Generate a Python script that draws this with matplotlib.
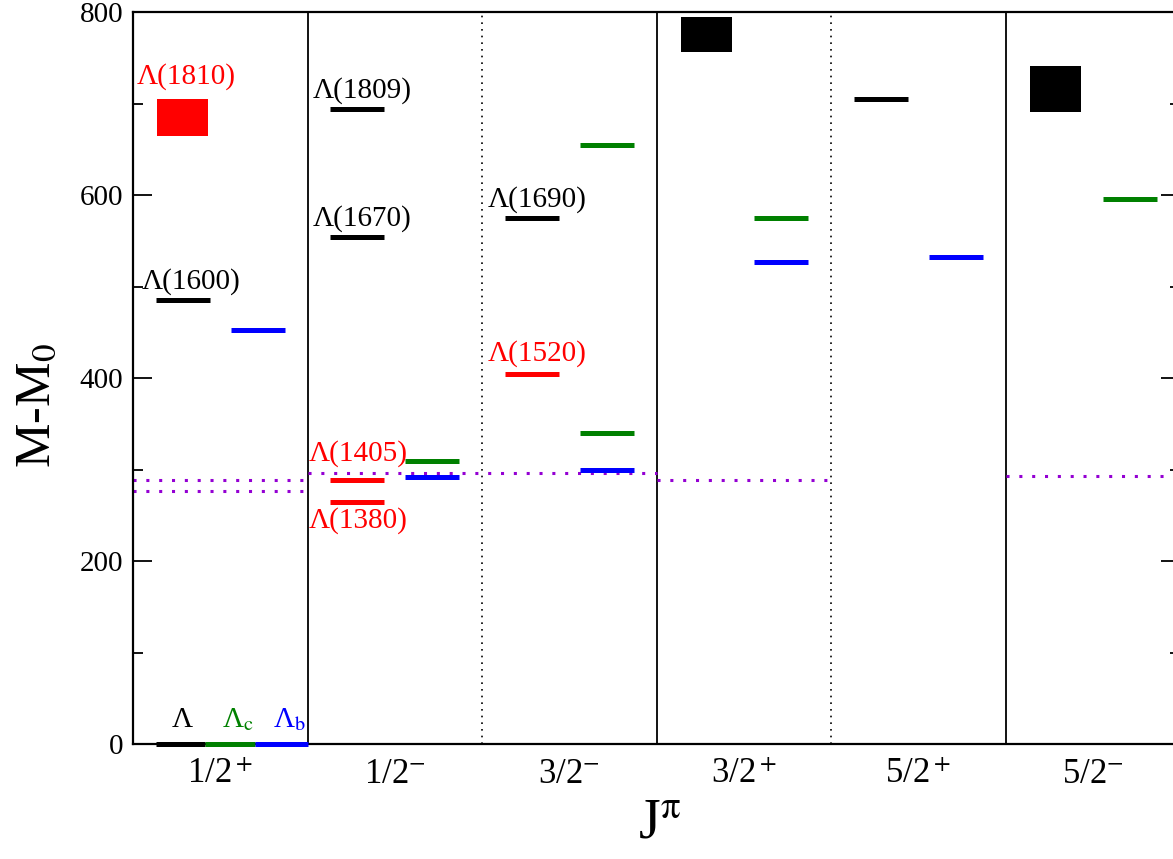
import matplotlib
matplotlib.use("Agg")
import matplotlib.pyplot as plt
from matplotlib.ticker import MultipleLocator

plt.rcParams['font.family'] = ['Liberation Serif', 'DejaVu Serif']
plt.rcParams['mathtext.fontset'] = 'stix'

# ---- data ----
panel_labels = ['1/2$^+$', '1/2$^{\\mathrm{-}}$', '3/2$^{\\mathrm{-}}$', '3/2$^+$', '5/2$^+$', '5/2$^{\\mathrm{-}}$']
divider_styles = ['solid', 'dotted', 'solid', 'dotted', 'solid']

# ground states (value 0) for Lambda, Lambda_c, Lambda_b
ground_labels = ['Λ', 'Λ$_\\mathrm{c}$', 'Λ$_\\mathrm{b}$']
ground_colors = ['black', 'green', 'blue']

# experimental Lambda levels (black): panel index, M-M0
lam_black_panel = [0, 1, 1, 2, 4]
lam_black_value = [485, 694, 554, 575, 705]
lam_black_label = ['Λ(1600)', 'Λ(1809)', 'Λ(1670)', 'Λ(1690)', '']

# red Lambda levels
lam_red_panel = [1, 1, 2]
lam_red_value = [288, 265, 404]
lam_red_label = ['Λ(1405)', 'Λ(1380)', 'Λ(1520)']

# boxes (range of values)
box_panel = [0, 3, 5]
box_low = [665, 756, 691]
box_high = [705, 795, 741]
box_color = ['red', 'black', 'black']
box_label = ['Λ(1810)', '', '']

# Lambda_c (green)
lc_panel = [1, 2, 2, 3, 5]
lc_value = [309, 655, 340, 575, 596]

# Lambda_b (blue)
lb_panel = [0, 1, 2, 3, 4]
lb_value = [452, 292, 300, 527, 532]

# thresholds (purple dotted): start panel, end panel, value
thr_start = [0, 0, 1, 3, 5]
thr_end = [1, 1, 3, 4, 6]
thr_value = [288, 277, 296, 288, 293]

# ---- figure ----
fig = plt.figure(figsize=(11.73, 8.59), dpi=100)
ax = fig.add_axes([133/1173, 115/859, (1180-133)/1173, (744-12)/859])
ax.set_xlim(0, 6)
ax.set_ylim(0, 800)

LW = 3.6
FS = 21
left_col = (0.13, 0.44)
right_col = (0.56, 0.87)

# dividers
for i, st in enumerate(divider_styles):
    if st == 'solid':
        ax.axvline(i + 1, color='black', lw=1.3)
    else:
        ax.axvline(i + 1, color='black', lw=1.2, linestyle=(0, (1, 3)))

# thresholds
for s, e, v in zip(thr_start, thr_end, thr_value):
    ax.plot([s, e], [v, v], color='#9400d3', lw=2.2, linestyle=(0, (1, 3.2)),
            dash_capstyle='butt', zorder=2)

# ground states
g_edges = [0.13, 0.41, 0.70, 1.0]
for k, c in enumerate(ground_colors):
    ax.plot([g_edges[k], g_edges[k+1]], [0, 0], color=c, lw=LW, zorder=4,
            solid_capstyle='butt', clip_on=False)
ax.text(0.285, 12, ground_labels[0], color='black', fontsize=FS, ha='center', va='bottom')
ax.text(0.51, 12, ground_labels[1], color='green', fontsize=FS, ha='left', va='bottom')
ax.text(0.80, 12, ground_labels[2], color='blue', fontsize=FS, ha='left', va='bottom')

# black levels
for p, v, lab in zip(lam_black_panel, lam_black_value, lam_black_label):
    ax.plot([p + left_col[0], p + left_col[1]], [v, v], color='black', lw=LW,
            solid_capstyle='butt', zorder=3)
    if lab:
        ax.text(p + 0.03 + (0.02 if p == 0 else 0), v + 20, lab, color='black',
                fontsize=FS, ha='left', va='center')

# red levels
for p, v, lab in zip(lam_red_panel, lam_red_value, lam_red_label):
    ax.plot([p + left_col[0], p + left_col[1]], [v, v], color='red', lw=LW,
            solid_capstyle='butt', zorder=3)
red_label_y = [317, 244, 427]
red_label_x = [1.005, 1.005, 2.03]
for lab, x, y in zip(lam_red_label, red_label_x, red_label_y):
    ax.text(x, y, lab, color='red', fontsize=FS, ha='left', va='center')

# boxes
for p, lo, hi, c, lab in zip(box_panel, box_low, box_high, box_color, box_label):
    ax.fill_between([p + 0.14, p + 0.43], lo, hi, color=c, lw=0, zorder=3)
    if lab:
        ax.text(p + 0.02, 729, lab, color=c, fontsize=FS, ha='left', va='center')

# Lambda_c and Lambda_b
for p, v in zip(lc_panel, lc_value):
    ax.plot([p + right_col[0], p + right_col[1]], [v, v], color='green', lw=LW,
            solid_capstyle='butt', zorder=3)
for p, v in zip(lb_panel, lb_value):
    ax.plot([p + right_col[0], p + right_col[1]], [v, v], color='blue', lw=LW,
            solid_capstyle='butt', zorder=3)

# axes styling
for sp in ax.spines.values():
    sp.set_linewidth(1.6)
ax.set_xticks([i + 0.5 for i in range(6)])
ax.set_xticklabels(panel_labels)
ax.tick_params(axis='x', length=0, pad=10, labelsize=25)
ax.yaxis.set_major_locator(MultipleLocator(200))
ax.yaxis.set_minor_locator(MultipleLocator(100))
ax.tick_params(axis='y', which='major', direction='in', length=14, width=1.3,
               left=True, right=True, labelsize=21, pad=7)
ax.tick_params(axis='y', which='minor', direction='in', length=7, width=1.3,
               left=True, right=True)

fig.text(37/1173, 1 - 405/859, 'M-M$_0$', fontsize=36, rotation=90,
         ha='center', va='center')
fig.text(660/1173, 1 - 824/859, 'J$^{\\mathrm{\\pi}}$', fontsize=40,
         ha='center', va='center')

fig.savefig('out.png', dpi=100)
